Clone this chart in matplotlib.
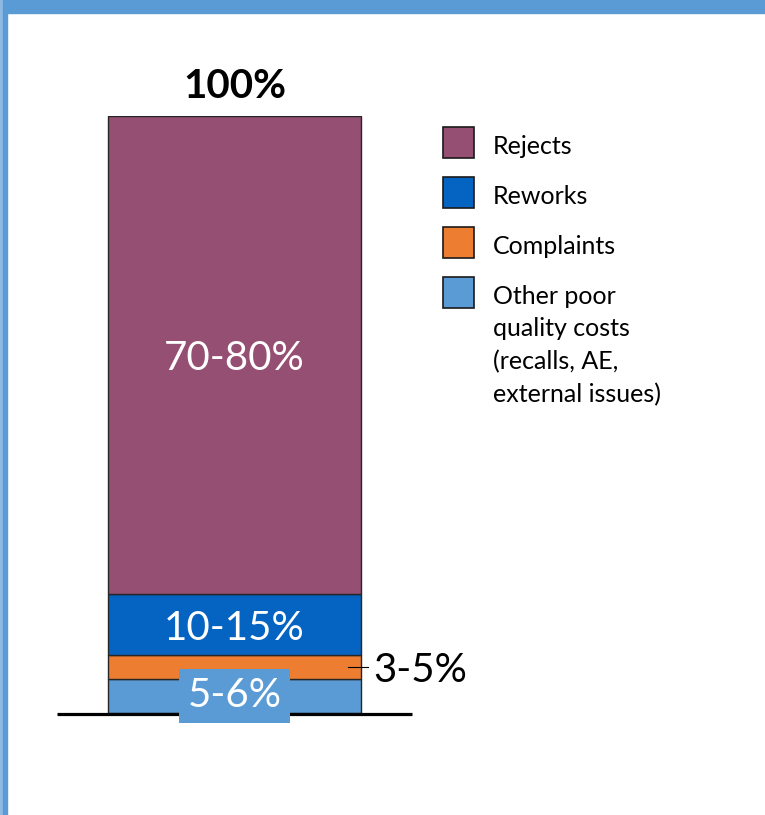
import matplotlib.pyplot as plt
from matplotlib.patches import Rectangle

# data (bottom to top), heights in % of the bar
categories = ['Other poor\nquality costs\n(recalls, AE,\nexternal issues)', 'Complaints', 'Reworks', 'Rejects']
values = [5.7, 4.0, 10.2, 80.1]
labels = ['5-6%', '3-5%', '10-15%', '70-80%']
colors = ['#5B9BD5', '#ED7D31', '#0563C1', '#954F72']
total_label = '100%'

plt.rcParams['font.family'] = ['Lato', 'DejaVu Sans']

W, H = 765, 815
fig = plt.figure(figsize=(W / 100, H / 100), dpi=100)

# frame: blue band on top, thin blue line on the left
fig.patches.append(Rectangle((0, 1 - 13 / H), 1, 13 / H, transform=fig.transFigure,
                             color='#5B9BD5', zorder=0))
fig.patches.append(Rectangle((0, 0), 3 / W, 1, transform=fig.transFigure,
                             color='#8DB9E3', zorder=0))
fig.patches.append(Rectangle((3 / W, 0), 4 / W, 1, transform=fig.transFigure,
                             color='#5B9BD5', zorder=0))

# axes: y 0..100 maps to pixel rows 713..116, bar of width 1 spans 108..361 px
bar_w = 253
ax = fig.add_axes([0, (H - 713) / H, 1, (713 - 116) / H])
ax.set_ylim(0, sum(values))
ax.set_xlim(-234.5 / bar_w, (W - 234.5) / bar_w)
ax.axis('off')

bottom = 0
mids = []
for v, c in zip(values, colors):
    ax.bar(0, v, width=1, bottom=bottom, color=c, edgecolor='#262626', linewidth=1.0)
    mids.append(bottom + v / 2)
    bottom += v

# baseline
ax.plot([-0.70, 0.70], [-0.1, -0.1], color='black', lw=2.3, solid_capstyle='butt',
        zorder=5, clip_on=False)

# segment labels (nudged a little below the segment middle, like the original)
fs = 29
dy = 0.6
ax.text(0, mids[3] - dy, labels[3], color='white', fontsize=fs, ha='center', va='center')
ax.text(0, mids[2] - dy, labels[2], color='white', fontsize=fs, ha='center', va='center')
ax.text(0, mids[0], labels[0], color='white', fontsize=fs, ha='center', va='center', zorder=6,
        bbox=dict(boxstyle='square,pad=0.2', facecolor=colors[0], edgecolor='none'))
ax.plot([0.449, 0.528], [mids[1], mids[1]], color='black', lw=0.8)
ax.text(0.547, mids[1] - dy, labels[1], color='black', fontsize=fs, ha='left', va='center')

# total on top
ax.text(0, sum(values) + 4.9, total_label, color='black', fontsize=29, fontweight='bold',
        ha='center', va='center')

# legend, drawn by hand
for i, (cat, c) in enumerate(zip(categories[::-1], colors[::-1])):
    top = 127 + 50 * i
    fig.patches.append(Rectangle((443 / W, 1 - (top + 31) / H), 31 / W, 31 / H,
                                 transform=fig.transFigure, facecolor=c,
                                 edgecolor='#1a1a1a', lw=1.2))
    for j, line in enumerate(cat.split('\n')):
        fig.text(493 / W, 1 - (top + 19 + 33 * j) / H, line, fontsize=18,
                 ha='left', va='center')

fig.savefig('out.png', dpi=100)
